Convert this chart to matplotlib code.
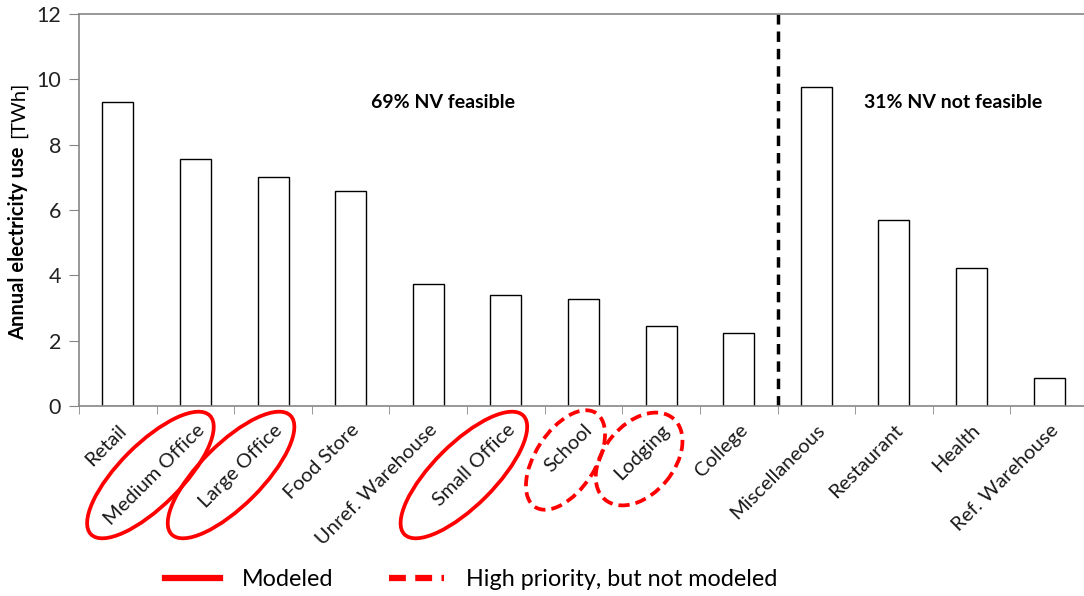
"""
Annual electricity use by commercial building type, with NV feasibility split
"""

import numpy as np
import matplotlib
matplotlib.use('Agg')
import matplotlib.pyplot as plt
from matplotlib.patches import Ellipse
from matplotlib.lines import Line2D

plt.rcParams['font.family'] = ['Lato', 'DejaVu Sans']

# data
categories = ['Retail', 'Medium Office', 'Large Office', 'Food Store', 'Unref. Warehouse',
              'Small Office', 'School', 'Lodging', 'College', 'Miscellaneous',
              'Restaurant', 'Health', 'Ref. Warehouse']
values = [9.30, 7.55, 7.02, 6.58, 3.74, 3.40, 3.28, 2.45, 2.22, 9.76, 5.68, 4.21, 0.85]
modeled = ['Medium Office', 'Large Office', 'Small Office']
high_priority = ['School', 'Lodging']
n_feasible = 9
feasible_label = '69% NV feasible'
not_feasible_label = '31% NV not feasible'

W, H = 1084, 596
fig = plt.figure(figsize=(W / 100, H / 100), dpi=100)
ax = fig.add_axes([79 / W, 190 / H, 1009 / W, 392 / H])

x = np.arange(len(categories))
ax.bar(x, values, width=0.4, color='white', edgecolor='black', linewidth=1.0)

ax.set_xlim(-0.5, len(categories) - 0.5)
ax.set_ylim(0, 12)
ax.set_yticks(np.arange(0, 13, 2))
ax.tick_params(axis='y', labelsize=15.5, labelcolor='#222222', length=7, color='#868686',
               direction='out', pad=6)

ax.set_xticks(x)
ax.set_xticklabels(categories, rotation=45, ha='right', rotation_mode='anchor',
                   fontsize=14.5, color='#1a1a1a')
ax.tick_params(axis='x', which='major', length=0, pad=11)
ax.set_xticks(np.arange(-0.5, len(categories)), minor=True)
ax.tick_params(axis='x', which='minor', length=6, color='#868686', direction='out')

for side in ['top', 'left', 'bottom']:
    ax.spines[side].set_color('#868686')
    ax.spines[side].set_linewidth(1.2)
ax.spines['right'].set_visible(False)

# divider between feasible and not feasible
ax.axvline(n_feasible - 0.5, color='black', linestyle=(0, (3, 2)), linewidth=2.5)
ax.text(4.19, 9.3, feasible_label, fontsize=14, fontweight='bold', ha='center', va='center')
ax.text(10.76, 9.3, not_feasible_label, fontsize=14, fontweight='bold', ha='center', va='center')

# y label: bold part + unit part
fig.text(18 / W, 1 - 243 / H, 'Annual electricity use', rotation=90, fontsize=14.5,
         fontweight='bold', ha='center', va='center')
fig.text(18 / W, 1 - 110 / H, '[TWh]', rotation=90, fontsize=14.5, ha='center', va='center')

# red ellipses around label names (pixel offsets from category center at axis bottom)
fig.canvas.draw()
ell_geom = {
    'Medium Office': (-45, -69, 84, 31, 45),
    'Large Office': (-42, -69, 84, 31, 45),
    'Small Office': (-42, -69, 84, 31, 45),
    'School': (-18, -54, 56, 30, 57),
    'Lodging': (-22, -53, 53, 35, 50),
}
for name in modeled + high_priority:
    i = categories.index(name)
    cx, cy = ax.transData.transform((i, 0))
    dx, dy, a, b, ang = ell_geom[name]
    ls = '-' if name in modeled else (0, (3, 1.6))
    e = Ellipse(((cx + dx) / 100, (cy + dy) / 100), 2 * a / 100, 2 * b / 100, angle=ang,
                transform=fig.dpi_scale_trans, fill=False, edgecolor='#ff0000',
                linewidth=2.7, linestyle=ls, clip_on=False)
    fig.add_artist(e)

handles = [Line2D([], [], color='#ff0000', linewidth=4.5),
           Line2D([], [], color='#ff0000', linewidth=4.5, linestyle=(0, (2.7, 1.5)))]
fig.legend(handles, ['Modeled', 'High priority, but not modeled'], loc='center left',
           bbox_to_anchor=(165 / W, 1 - 580 / H), ncol=2, frameon=False, fontsize=16.8,
           handlelength=2.36, handletextpad=0.95, columnspacing=2.36,
           borderpad=0, borderaxespad=0)

fig.savefig('out.png', dpi=100)
